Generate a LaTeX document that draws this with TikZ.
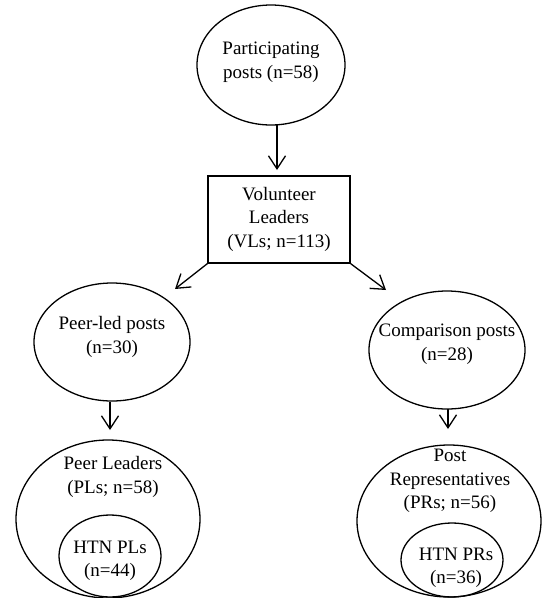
\documentclass[tikz,border=0pt]{standalone}
\usepackage{fontspec}
\setmainfont{Liberation Serif}
\usetikzlibrary{arrows.meta,shapes.geometric}
\begin{document}
\begin{tikzpicture}[x=1pt,y=-1pt,
  line width=1.3pt,
  lbl/.style={align=center,font=\fontsize{19}{23.5}\selectfont,inner sep=0pt},
  ell/.style={draw,ellipse,inner sep=0pt},
  arr/.style={-{Straight Barb[length=13pt,width=17pt,line width=1.3pt]}}
]
\useasboundingbox (0,0) rectangle (543,598);
% top ellipse
\node[ell,minimum width=148pt,minimum height=120pt] (top) at (271,65) {};
\node[lbl] (toptxt) at (271,62) {Participating\\posts (n=58)};
% box
\node[draw,minimum width=142pt,minimum height=87pt,inner sep=0pt] (vl) at (279,219.5) {};
\node[lbl] (vltxt) at (279,219) {Volunteer\\Leaders\\(VLs; n=113)};
% second level ellipses
\node[ell,minimum width=156pt,minimum height=118pt] (pl) at (112,342) {};
\node[lbl] (pltxt) at (112,337) {Peer-led posts\\(n=30)};
\node[ell,minimum width=156pt,minimum height=118pt] (cp) at (447,350) {};
\node[lbl] (cptxt) at (447,344) {Comparison posts\\(n=28)};
% bottom big ellipses
\node[ell,minimum width=184pt,minimum height=158pt] (pls) at (108,519) {};
\node[lbl] (plstxt) at (113,477) {Peer Leaders\\(PLs; n=58)};
\node[ell,minimum width=102pt,minimum height=82pt] (htnpl) at (110,556) {};
\node[lbl] (htnpltxt) at (110,561) {HTN PLs\\(n=44)};
\node[ell,minimum width=184pt,minimum height=152pt] (prs) at (449,521) {};
\node[lbl] (prstxt) at (450,481) {Post\\Representatives\\(PRs; n=56)};
\node[ell,minimum width=102pt,minimum height=74pt] (htnpr) at (452,560) {};
\node[lbl] (htnprtxt) at (456,568) {HTN PRs\\(n=36)};
% arrow end points
\coordinate (a1) at (277,170);
\coordinate (a1s) at (277,125);
\coordinate (a2) at (175,289);
\coordinate (a3) at (386,290);
\coordinate (a4s) at (110,402);
\coordinate (a4) at (110,430);
\coordinate (a5s) at (448,409);
\coordinate (a5) at (448,429);
% connectors
\draw[arr] (a1s) -- (a1);
\draw[arr] (vl.south west) -- (a2);
\draw[arr] (vl.south east) -- (a3);
\draw[arr] (a4s) -- (a4);
\draw[arr] (a5s) -- (a5);
\end{tikzpicture}
\end{document}
